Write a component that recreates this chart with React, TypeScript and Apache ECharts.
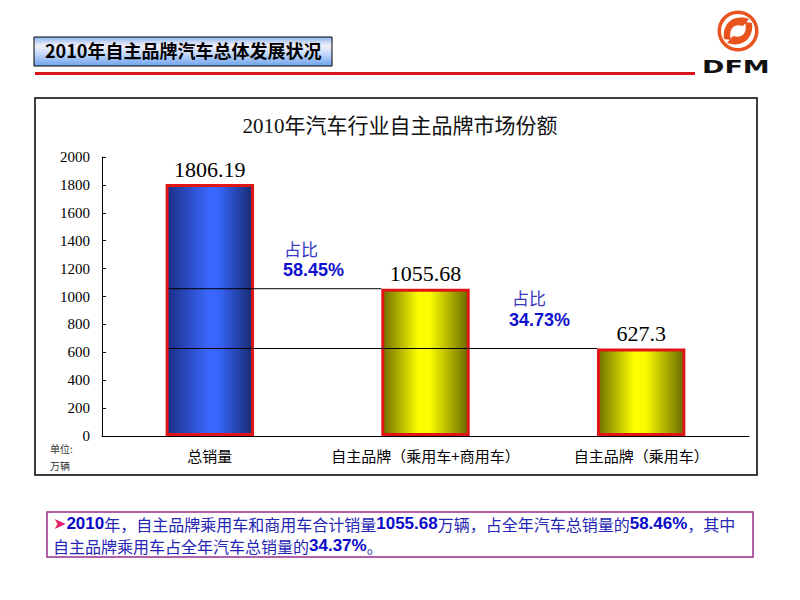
import React, { useEffect, useRef } from "react";
import * as echarts from "echarts";

const categories = ["总销量", "自主品牌（乘用车+商用车）", "自主品牌（乘用车）"];
const sales = [1806.19, 1055.68, 627.3];
// reference lines: from bar [fromIdx] to bar [toIdx] at level value
const refLines = [
  [0, 1, 1055.68],
  [0, 2, 627.3],
];
const shareTitles = ["占比", "占比"];
const shareValues = ["58.45%", "34.73%"];
const yMin = 0;
const yMax = 2000;
const yStep = 200;

const pageTitle = "2010年自主品牌汽车总体发展状况";
const chartTitle = "2010年汽车行业自主品牌市场份额";
const unitLines = ["单位:", "万辆"];
const summaryLine1 =
  "{a|➤}{b|2010}{n|年，自主品牌乘用车和商用车合计销量}{b|1055.68}{n|万辆，占全年汽车总销量的}{b|58.46%}{n|，其中}";
const summaryLine2 = "{n|自主品牌乘用车占全年汽车总销量的}{b|34.37%}{n|。}";

const BAR_RATIO = 0.41;

const blueGrad = new echarts.graphic.LinearGradient(0, 0, 1, 0, [
  { offset: 0, color: "#1c2f88" },
  { offset: 0.5, color: "#3a68ff" },
  { offset: 0.62, color: "#3563f5" },
  { offset: 1, color: "#1a2a70" },
]);
const yellowGrad = new echarts.graphic.LinearGradient(0, 0, 1, 0, [
  { offset: 0, color: "#6e6e00" },
  { offset: 0.42, color: "#ffff00" },
  { offset: 0.55, color: "#fbfb00" },
  { offset: 1, color: "#6a6a00" },
]);

echarts.graphic.registerShape(
  "dfmSwirl",
  echarts.graphic.extendPath(
    "M -14 8 C -16 -8 -4 -17 11 -12 L 5 -5 C -4 -8 -10 -2 -7 9 Z M 14 -8 C 16 8 4 17 -11 12 L -5 5 C 4 8 10 2 7 -9 Z",
    {}
  )
);

const richStyles = {
  a: { fontSize: 16, fill: "#e0206a", fontFamily: "DejaVu Sans", lineHeight: 17 },
  b: {
    fontSize: 17,
    fontWeight: "bold",
    fill: "#0a0ac8",
    fontFamily: "Liberation Sans, Arial",
    lineHeight: 17,
  },
  n: { fontSize: 16, fill: "#2626b4", fontFamily: "Noto Sans CJK SC", lineHeight: 17 },
};

export default function App() {
  const ref = useRef<HTMLDivElement>(null);

  useEffect(() => {
    if (!ref.current) return;
    const chart = echarts.init(ref.current, undefined, { renderer: "svg" });

    const barData = sales.map((v, i) => ({
      value: v,
      itemStyle: {
        color: i === 0 ? blueGrad : yellowGrad,
        borderColor: "#e01515",
        borderWidth: 3,
      },
    }));

    const shareGraphics: any[] = [];
    const sharePos = [
      [284, 250, 283, 271],
      [512, 299, 509, 321],
    ];
    shareValues.forEach((sv, i) => {
      shareGraphics.push({
        type: "text",
        left: sharePos[i][0],
        top: sharePos[i][1] - 10,
        style: {
          text: shareTitles[i],
          fontSize: 17,
          fontFamily: "Noto Sans CJK SC",
          fill: "#3838c0",
        },
        z: 100,
      });
      shareGraphics.push({
        type: "text",
        left: sharePos[i][2],
        top: sharePos[i][3] - 10,
        style: {
          text: sv,
          fontSize: 18,
          fontWeight: "bold",
          fontFamily: "Liberation Sans, Arial",
          fill: "#1010d0",
        },
        z: 100,
      });
    });

    const option: any = {
      animation: false,
      backgroundColor: "#ffffff",
      grid: { left: 102, right: 51, top: 157, bottom: 164 },
      xAxis: {
        type: "category",
        data: categories,
        axisLine: { lineStyle: { color: "#000", width: 1 } },
        axisTick: { inside: true, length: 4, lineStyle: { color: "#000" } },
        axisLabel: {
          interval: 0,
          color: "#000",
          fontSize: 15,
          fontFamily: "Noto Sans CJK SC",
          margin: 12,
        },
      },
      yAxis: {
        type: "value",
        min: yMin,
        max: yMax,
        interval: yStep,
        axisLine: { show: true, lineStyle: { color: "#000", width: 1 } },
        axisTick: { show: true, inside: true, length: 4, lineStyle: { color: "#000" } },
        splitLine: { show: false },
        axisLabel: {
          color: "#000",
          fontSize: 15,
          fontFamily: "Liberation Serif",
          margin: 12,
          formatter: (v: number) => String(v),
        },
      },
      series: [
        {
          type: "bar",
          data: barData,
          barWidth: BAR_RATIO * 100 + "%",
          z: 2,
          label: {
            show: true,
            position: "top",
            distance: 4,
            color: "#000",
            fontSize: 22,
            fontFamily: "Liberation Serif",
          },
        },
        {
          type: "custom",
          data: refLines,
          encode: { x: [0, 1], y: 2 },
          z: 5,
          silent: true,
          renderItem: (_params: any, api: any) => {
            const y = api.value(2);
            const s = api.coord([api.value(0), y]);
            const e = api.coord([api.value(1), y]);
            const bw = api.size([1, 0])[0] * BAR_RATIO;
            return {
              type: "line",
              shape: {
                x1: s[0] - bw / 2 + 3,
                y1: s[1],
                x2: e[0] - bw / 2,
                y2: e[1],
              },
              style: { stroke: "#000", lineWidth: 1 },
            };
          },
        },
      ],
      graphic: [
        // page title box
        {
          type: "rect",
          shape: { x: 34, y: 37, width: 298, height: 29 },
          style: {
            fill: new echarts.graphic.LinearGradient(0, 0, 0, 1, [
              { offset: 0, color: "#8db6f0" },
              { offset: 0.3, color: "#f3eff9" },
              { offset: 0.55, color: "#c9dcfa" },
              { offset: 1, color: "#6ea2ec" },
            ]),
            stroke: "#000",
            lineWidth: 1,
          },
          z: 10,
        },
        {
          type: "text",
          left: 45,
          top: 41,
          style: {
            text: pageTitle,
            fontSize: 18,
            fontWeight: "bold",
            fontFamily: "Noto Sans CJK SC",
            fill: "#000",
          },
          z: 11,
        },
        // red rule
        {
          type: "rect",
          shape: { x: 35, y: 72, width: 660, height: 3 },
          style: { fill: "#d8141c" },
          z: 10,
        },
        // logo
        {
          type: "ring",
          shape: { cx: 738, cy: 31, r: 20.5, r0: 17 },
          style: { fill: "#e8531e" },
          z: 10,
        },
        {
          type: "dfmSwirl",
          x: 738,
          y: 31,
          style: { fill: "#e8531e" },
          z: 10,
        },
        {
          type: "text",
          x: 702,
          y: 58,
          scaleX: 1.5,
          style: {
            text: "DFM",
            fontSize: 18,
            fontWeight: 900,
            fontFamily: "DejaVu Sans",
            fill: "#111",
          },
          z: 10,
        },
        // chart frame
        {
          type: "rect",
          shape: { x: 35, y: 98, width: 722, height: 377 },
          style: { fill: "none", stroke: "#000", lineWidth: 1.5 },
          z: 0,
        },
        {
          type: "text",
          left: "center",
          top: 115,
          style: {
            text: chartTitle,
            fontSize: 21,
            fontFamily: "Liberation Serif, Noto Sans CJK SC",
            fill: "#111",
          },
          z: 10,
        },
        {
          type: "text",
          left: 50,
          top: 443,
          style: {
            text: unitLines[0],
            fontSize: 10,
            fontFamily: "Noto Sans CJK SC",
            fill: "#333",
          },
        },
        {
          type: "text",
          left: 50,
          top: 460,
          style: {
            text: unitLines[1],
            fontSize: 10,
            fontFamily: "Noto Sans CJK SC",
            fill: "#333",
          },
        },
        ...shareGraphics,
        // bottom summary box
        {
          type: "rect",
          shape: { x: 47, y: 512, width: 706, height: 45 },
          style: { fill: "#fff", stroke: "#9a2c8c", lineWidth: 1.5 },
          z: 10,
        },
        {
          type: "text",
          left: 53,
          top: 515,
          style: { text: summaryLine1, rich: richStyles },
          z: 11,
        },
        {
          type: "text",
          left: 53,
          top: 537,
          style: { text: summaryLine2, rich: richStyles },
          z: 11,
        },
      ],
    };

    chart.setOption(option);
    return () => chart.dispose();
  }, []);

  return (
    <div
      ref={ref}
      style={{ position: "fixed", left: 0, top: 0, width: 800, height: 600 }}
    />
  );
}
